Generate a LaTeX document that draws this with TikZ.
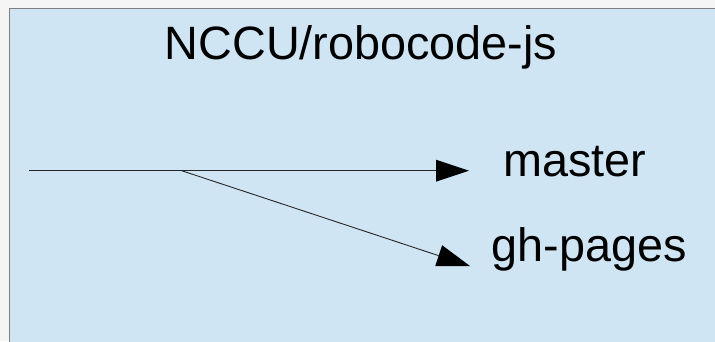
\documentclass[tikz,border=0pt]{standalone}
\usepackage{fontspec}
\setmainfont{Liberation Sans}
\usetikzlibrary{arrows.meta}
\definecolor{pagebg}{HTML}{F5F5F5}
\definecolor{panelfill}{HTML}{CFE5F3}
\definecolor{panelline}{HTML}{7F7F7F}
\tikzset{
  lbl/.style={inner sep=0pt, font=\fontsize{46.8}{50}\selectfont, text=black},
  branch/.style={draw=black!85, line width=0.9pt, -{Triangle[length=33pt,width=22pt,color=black,fill=black,line width=0pt]}},
}
\begin{document}
\begin{tikzpicture}[x=1pt,y=-1pt]
  \useasboundingbox (0,0) rectangle (715,341);
  \fill[pagebg] (0,0) rectangle (715,341);
  \draw[panelline, fill=panelfill, line width=1.5pt] (9.5,8.5) rectangle (730,360);
  \node[lbl, anchor=base] (title) at (361,59) {NCCU/robocode-js};
  \node[lbl, anchor=base west] (master) at (503,176.7) {master};
  \node[lbl, anchor=base west] (ghpages) at (491.7,261.7) {gh-pages};
  \coordinate (start) at (29,170.7);
  \coordinate (fork) at (181.7,170.7);
  \coordinate (tipA) at (469,170.7);
  \coordinate (tipB) at (470,266);
  \draw[branch] (start) -- (tipA);
  \draw[branch] (fork) -- (tipB);
\end{tikzpicture}
\end{document}
